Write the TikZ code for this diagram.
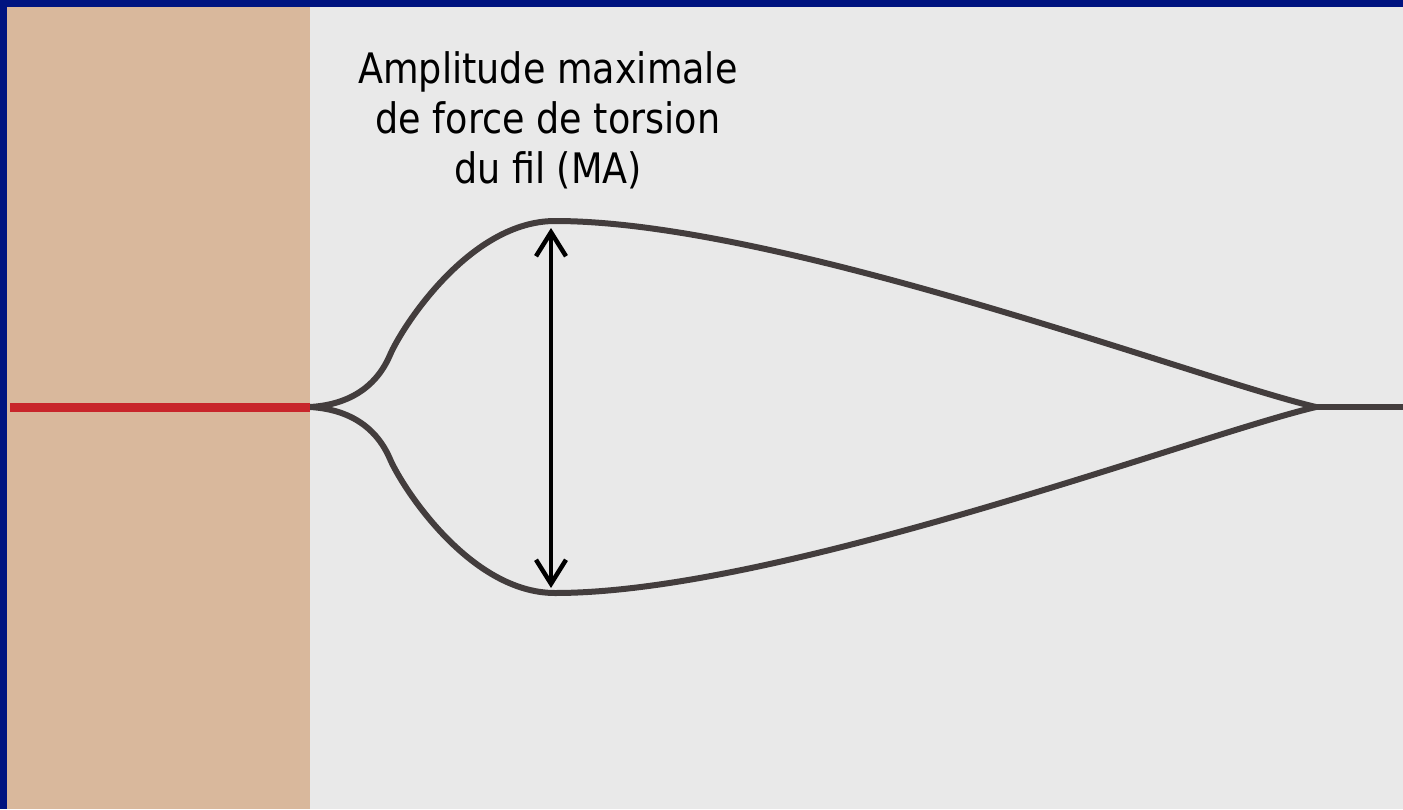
\documentclass[tikz,border=0pt]{standalone}
\usepackage{fontspec}
\setmainfont[FakeStretch=0.87]{DejaVu Sans}
\usepackage{tikz}
\usepackage{xcolor}
\definecolor{slideblue}{RGB}{0,20,128}
\definecolor{clamptan}{RGB}{217,184,156}
\definecolor{panelgrey}{RGB}{233,233,233}
\definecolor{wiregrey}{RGB}{67,61,61}
\definecolor{wirered}{RGB}{200,37,42}
\usetikzlibrary{arrows.meta}
\tikzset{
  wire/.style={line width=6pt,draw=wiregrey,line join=round},
  lab/.style={align=center,font=\fontsize{42}{50}\selectfont,text=black,inner sep=0pt},
  arr/.style={{Straight Barb[length=24pt,width=30pt]}-{Straight Barb[length=24pt,width=30pt]},line width=4.5pt,draw=black},
}

\begin{document}
\begin{tikzpicture}[x=1pt,y=-1pt]
    \useasboundingbox (0,0) rectangle (1403,809);
    \fill[slideblue] (0,0) rectangle (1403,809);
    \fill[panelgrey] (7,7) rectangle (1403,809);
    \fill[clamptan] (7,7) rectangle (310,809);
    % wire loop, upper and lower branch
    \foreach \s in {1,-1}{
      \draw[wire] (310,407) .. controls (345,{407-2*\s}) and (375,{407-17*\s}) .. (390,{407-52*\s})
        .. controls (402,{407-80*\s}) and (470,{407-186*\s}) .. (555,{407-186*\s})
        .. controls (780,{407-186*\s}) and (1200,{407-27*\s}) .. (1316,407);
    }
    \draw[wire] (1310,407) -- (1403,407);
    \draw[line width=9pt,draw=wirered] (10,407) -- (310,407);
    \coordinate (matop) at (551,228);
    \coordinate (mabot) at (551,588);
    \draw[arr] (matop) -- (mabot);
    \node[lab,anchor=north] (malabel) at (548,51) {Amplitude maximale\\de force de torsion\\du fil (MA)};
  \end{tikzpicture}
\end{document}
